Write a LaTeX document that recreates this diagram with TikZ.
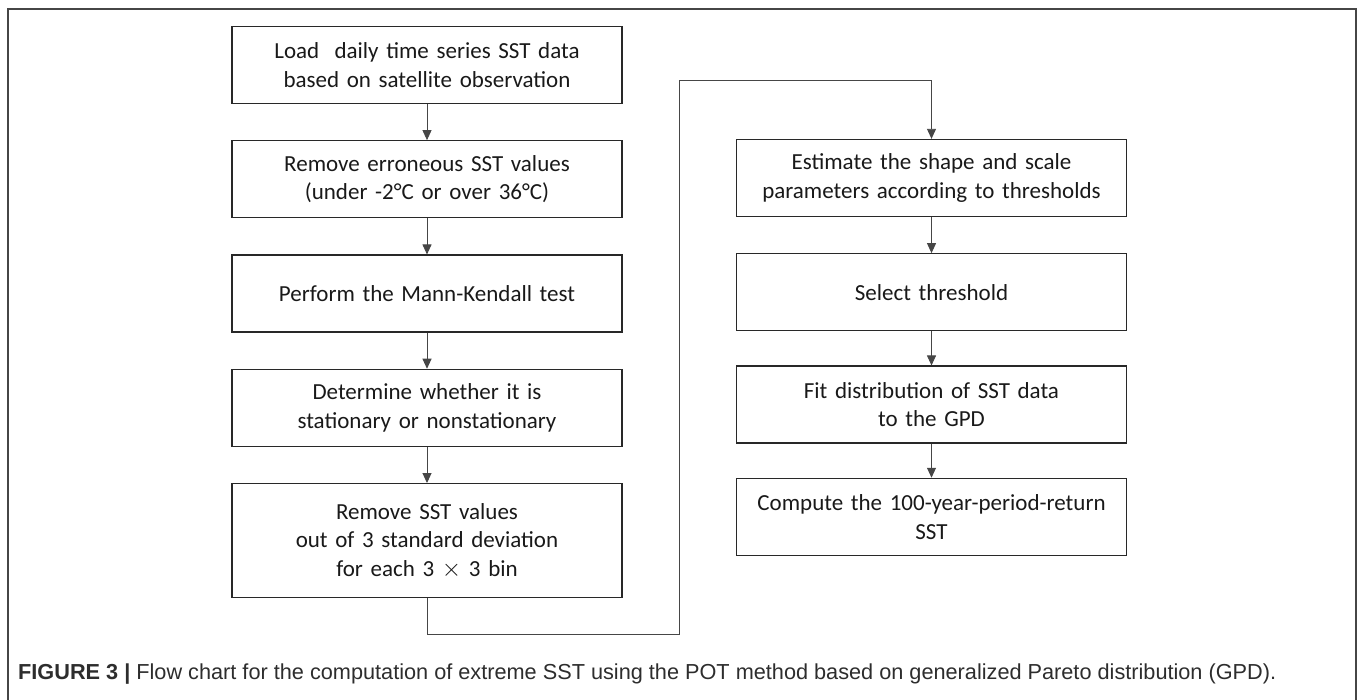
\documentclass[tikz,border=0pt]{standalone}
\usepackage{fontspec}
\setmainfont{Carlito}
\newfontfamily\capfont{Liberation Sans}
\usetikzlibrary{arrows.meta,positioning}
\definecolor{boxline}{RGB}{40,40,40}
\definecolor{wire}{RGB}{70,70,70}
\definecolor{captext}{RGB}{45,45,45}
\tikzset{
  stepbox/.style={draw=boxline,line width=1.3pt,minimum width=390pt,minimum height=77pt,
    text width=384pt,align=center,inner sep=0pt,text=black!90,font=\fontsize{23}{28.5}\selectfont},
  flow/.style={draw=wire,line width=0.9pt,-{Triangle[length=10pt,width=9pt]}}
}

\begin{document}
\begin{tikzpicture}[x=1pt,y=-1pt,node distance=36pt]
\useasboundingbox (0,0) rectangle (1362,700);
% frame round the figure
\draw[wire,line width=1.4pt] (8,700) -- (8,9) -- (1356,9) -- (1356,700);
% left column
\node[stepbox] (load) at (427,65) {Load~ daily time series SST data\\based on satellite observation};
\node[stepbox,below=of load] (erron) {Remove erroneous SST values\\(under -2°C or over 36°C)};
\node[stepbox,below=of erron] (mk) {Perform the Mann-Kendall test};
\node[stepbox,below=of mk] (stat) {Determine whether it is\\stationary or nonstationary};
\node[stepbox,below=of stat,minimum height=114pt] (outl) {Remove SST values\\out of 3 standard deviation\\for each 3 $\times$ 3 bin};
% right column
\node[stepbox] (est) at (931.5,178) {Estimate the shape and scale\\parameters according to thresholds};
\node[stepbox,below=of est] (thr) {Select threshold};
\node[stepbox,below=34pt of thr] (fit) {Fit distribution of SST data\\to the GPD};
\node[stepbox,below=34pt of fit] (ret) {Compute the 100-year-period-return\\SST};
\draw[flow] (load)--(erron); \draw[flow] (erron)--(mk); \draw[flow] (mk)--(stat); \draw[flow] (stat)--(outl);
\draw[flow] (est)--(thr); \draw[flow] (thr)--(fit); \draw[flow] (fit)--(ret);
% link between the two columns
\coordinate (lowturn) at (679,634);
\coordinate (highturn) at (679,80);
\draw[flow] (outl.south) |- (lowturn) -- (highturn) -| (est.north);
% caption
\node[anchor=base west,inner sep=0pt,text=captext,font=\capfont\fontsize{21.7}{25}\selectfont] (cap) at (18,679)
  {\textbf{FIGURE 3 |} Flow chart for the computation of extreme SST using the POT method based on generalized Pareto distribution (GPD).};
\end{tikzpicture}
\end{document}
